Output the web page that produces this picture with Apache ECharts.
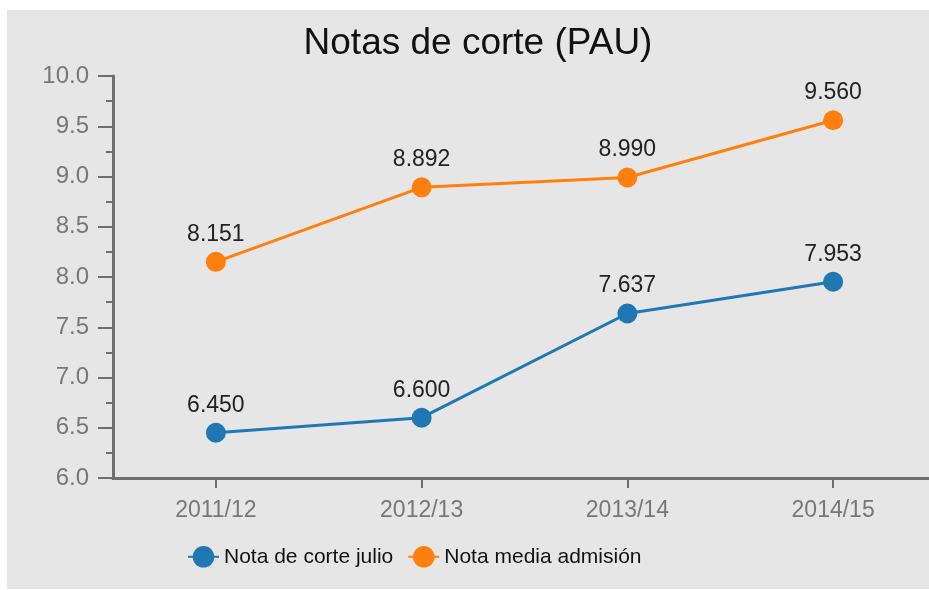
<!DOCTYPE html>
<html>
<head>
<meta charset="utf-8">
<script src="https://cdn.jsdelivr.net/npm/echarts@6/dist/echarts.min.js"></script>
<style>
html,body{margin:0;padding:0;background:#ffffff;overflow:hidden;}
#wrap{position:absolute;left:7px;top:10px;width:922px;height:579px;overflow:hidden;background:#e6e6e6;}
#chart{position:absolute;left:0;top:0;width:929px;height:579px;}
</style>
</head>
<body>
<div id="wrap"><div id="chart"></div></div>
<script>
const categories = ["2011/12", "2012/13", "2013/14", "2014/15"];
const notaCorteJulio = [6.450, 6.600, 7.637, 7.953];
const notaMediaAdmision = [8.151, 8.892, 8.990, 9.560];
const seriesNames = ["Nota de corte julio", "Nota media admisión"];
const yTicks = { min: 6, max: 10, interval: 0.5 };

const FONT = "Liberation Sans";
const axisColor = "#6e6e6e";
const chart = echarts.init(document.getElementById('chart'), null, {renderer: 'canvas'});

function mkSeries(name, data, color) {
  return {
    name: name,
    type: 'line',
    data: data,
    symbol: 'circle',
    symbolSize: 20,
    showAllSymbol: true,
    lineStyle: { color: color, width: 3 },
    itemStyle: { color: color },
    label: {
      show: true,
      position: 'top',
      distance: 6,
      color: '#222222',
      fontFamily: FONT,
      fontSize: 23,
      formatter: p => p.value.toFixed(3)
    },
    emphasis: { disabled: true },
    animation: false
  };
}

chart.setOption({
  backgroundColor: '#e6e6e6',
  animation: false,
  title: {
    text: 'Notas de corte (PAU)',
    left: 466,
    textAlign: 'center',
    top: 10,
    textStyle: { fontFamily: FONT, fontSize: 37, fontWeight: 'normal', color: '#111111' }
  },
  legend: {
    left: 175,
    top: 531,
    itemWidth: 31,
    itemHeight: 27,
    itemGap: 14,
    data: seriesNames,
    textStyle: { fontFamily: FONT, fontSize: 21, color: '#111111' }
  },
  grid: { left: 106, top: 66, right: 0, bottom: 111, containLabel: false },
  xAxis: {
    type: 'category',
    data: categories,
    boundaryGap: true,
    axisLine: { show: true, lineStyle: { color: axisColor, width: 3 } },
    axisTick: { show: true, alignWithLabel: true, length: 10, lineStyle: { color: axisColor, width: 2 } },
    axisLabel: { margin: 21, color: '#777777', fontFamily: FONT, fontSize: 23 },
    splitLine: { show: false }
  },
  yAxis: {
    type: 'value',
    min: yTicks.min,
    max: yTicks.max,
    interval: yTicks.interval,
    axisLine: { show: true, lineStyle: { color: axisColor, width: 3 } },
    axisTick: { show: true, length: 15, lineStyle: { color: axisColor, width: 2 } },
    minorTick: { show: true, splitNumber: 2, length: 7, lineStyle: { color: axisColor, width: 2 } },
    axisLabel: { margin: 24, color: '#777777', fontFamily: FONT, fontSize: 24, formatter: v => v.toFixed(1) },
    splitLine: { show: false },
    minorSplitLine: { show: false }
  },
  series: [
    mkSeries(seriesNames[0], notaCorteJulio, '#1f77b4'),
    mkSeries(seriesNames[1], notaMediaAdmision, '#ff7f0e')
  ]
});
</script>
</body>
</html>
